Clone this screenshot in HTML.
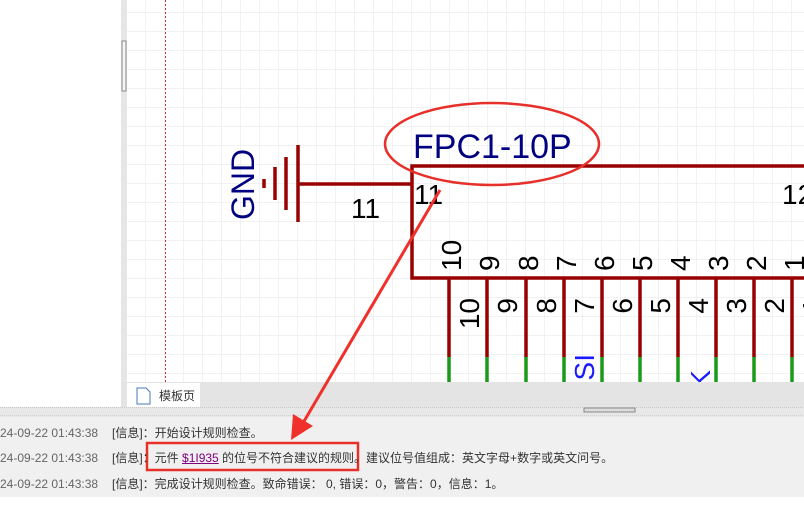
<!DOCTYPE html>
<html><head><meta charset="utf-8"><style>
body{margin:0;width:804px;height:520px;overflow:hidden;background:#fff;position:relative;font-family:"Liberation Sans","Noto Sans CJK SC",sans-serif}
.log{position:absolute;left:0;font-size:12px;color:#333;white-space:nowrap}
.log .t{color:#666;display:inline-block;width:112px}
</style></head><body>
<svg width="804" height="520" style="position:absolute;left:0;top:0" xmlns="http://www.w3.org/2000/svg">
<defs>
<pattern id="g" x="13" y="13" width="19" height="19" patternUnits="userSpaceOnUse">
<path d="M19 0V19M0 19H19" stroke="#e4e4e4" stroke-width="1" fill="none"/>
</pattern>
</defs>
<rect x="0" y="0" width="121" height="407" fill="#fff"/>
<rect x="121" y="0" width="6" height="407" fill="#e6e6e6"/>
<rect x="122" y="41" width="4" height="50" fill="#f5f5f5" stroke="#888" stroke-width="1"/>
<rect x="127" y="0" width="677" height="382" fill="#fff"/>
<rect x="127" y="0" width="677" height="382" fill="url(#g)"/>
<line x1="165.5" y1="0" x2="165.5" y2="382" stroke="#c33" stroke-width="1" stroke-dasharray="2,2"/>
<g stroke="#990000" stroke-width="3.5" fill="none">
<line x1="298" y1="145" x2="298" y2="222"/>
<line x1="286" y1="157" x2="286" y2="210"/>
<line x1="275" y1="167" x2="275" y2="200"/>
<line x1="264" y1="179" x2="264" y2="188"/>
<line x1="298" y1="184" x2="412" y2="184"/>
</g>
<text transform="translate(254,220) rotate(-90)" font-size="32" fill="#000080">GND</text>
<text x="351" y="218" font-size="28" fill="#000">11</text>
<rect x="412" y="166" width="420" height="112" fill="none" stroke="#990000" stroke-width="3.5"/>
<text x="414" y="204" font-size="28" fill="#000">11</text>
<text x="782" y="204" font-size="28" fill="#000">12</text>
<text x="413" y="158" font-size="34" fill="#000080">FPC1-10P</text>
<ellipse cx="492" cy="144" rx="107" ry="41" fill="none" stroke="#e8302a" stroke-width="2.5"/>
<g stroke-width="3.5">
<line x1="449" y1="279" x2="449" y2="357" stroke="#990000"/><line x1="449" y1="357" x2="449" y2="382" stroke="#1a9a1a"/>
<line x1="487" y1="279" x2="487" y2="357" stroke="#990000"/><line x1="487" y1="357" x2="487" y2="382" stroke="#1a9a1a"/>
<line x1="526" y1="279" x2="526" y2="357" stroke="#990000"/><line x1="526" y1="357" x2="526" y2="382" stroke="#1a9a1a"/>
<line x1="564" y1="279" x2="564" y2="357" stroke="#990000"/><line x1="564" y1="357" x2="564" y2="382" stroke="#1a9a1a"/>
<line x1="602" y1="279" x2="602" y2="357" stroke="#990000"/><line x1="602" y1="357" x2="602" y2="382" stroke="#1a9a1a"/>
<line x1="640" y1="279" x2="640" y2="357" stroke="#990000"/><line x1="640" y1="357" x2="640" y2="382" stroke="#1a9a1a"/>
<line x1="678" y1="279" x2="678" y2="357" stroke="#990000"/><line x1="678" y1="357" x2="678" y2="382" stroke="#1a9a1a"/>
<line x1="716" y1="279" x2="716" y2="357" stroke="#990000"/><line x1="716" y1="357" x2="716" y2="382" stroke="#1a9a1a"/>
<line x1="754" y1="279" x2="754" y2="357" stroke="#990000"/><line x1="754" y1="357" x2="754" y2="382" stroke="#1a9a1a"/>
<line x1="792" y1="279" x2="792" y2="357" stroke="#990000"/><line x1="792" y1="357" x2="792" y2="382" stroke="#1a9a1a"/>
</g>
<g font-size="28" fill="#000">
<text transform="translate(461,271) rotate(-90)">10</text>
<text transform="translate(499,271) rotate(-90)">9</text>
<text transform="translate(538,271) rotate(-90)">8</text>
<text transform="translate(576,271) rotate(-90)">7</text>
<text transform="translate(614,271) rotate(-90)">6</text>
<text transform="translate(652,271) rotate(-90)">5</text>
<text transform="translate(690,271) rotate(-90)">4</text>
<text transform="translate(728,271) rotate(-90)">3</text>
<text transform="translate(766,271) rotate(-90)">2</text>
<text transform="translate(804,271) rotate(-90)">1</text>
<g text-anchor="end">
<text transform="translate(479,298) rotate(-90)">10</text>
<text transform="translate(517,298) rotate(-90)">9</text>
<text transform="translate(556,298) rotate(-90)">8</text>
<text transform="translate(594,298) rotate(-90)">7</text>
<text transform="translate(632,298) rotate(-90)">6</text>
<text transform="translate(670,298) rotate(-90)">5</text>
<text transform="translate(708,298) rotate(-90)">4</text>
<text transform="translate(746,298) rotate(-90)">3</text>
<text transform="translate(784,298) rotate(-90)">2</text>
<text transform="translate(822,298) rotate(-90)">1</text>
</g>
</g>
<g font-size="28" fill="#1a1aff" text-anchor="end">
<text transform="translate(594,354) rotate(-90)">SI</text>
<text transform="translate(710,370) rotate(-90)">K</text>
</g>
<rect x="121" y="382" width="683" height="25" fill="#e4e4e4"/>
<rect x="127" y="383" width="73" height="24" fill="#fff"/>
<path d="M137 388h9l4 4v12h-13z" fill="#fff" stroke="#4a7ab8" stroke-width="1"/>
<text x="159" y="400" font-size="12" fill="#333" font-family="Liberation Sans,Noto Sans CJK SC,sans-serif">模板页</text>
<rect x="0" y="407" width="804" height="10" fill="#e8e8e8"/>
<line x1="0" y1="407.5" x2="804" y2="407.5" stroke="#c8c8c8" stroke-dasharray="1,1"/>
<line x1="0" y1="415.5" x2="804" y2="415.5" stroke="#d0d0d0" stroke-dasharray="1,1"/>
<rect x="584" y="408" width="51" height="4" fill="#ddd" stroke="#888" stroke-width="1"/>
<rect x="0" y="417" width="804" height="80" fill="#f0f0f0"/>
<rect x="147" y="443" width="211" height="27" fill="none" stroke="#e8302a" stroke-width="2.5"/>
<line x1="440" y1="190" x2="303" y2="423" stroke="#f0302a" stroke-width="3"/>
<polygon points="291,440 293,414 313,426" fill="#f0302a"/>
</svg>
<div class="log" style="top:424px"><span class="t">24-09-22 01:43:38</span>[信息]：开始设计规则检查。</div>
<div class="log" style="top:449px"><span class="t">24-09-22 01:43:38</span>[信息]：元件 <span style="color:#800080;text-decoration:underline">$1I935</span> 的位号不符合建议的规则。建议位号值组成：英文字母+数字或英文问号。</div>
<div class="log" style="top:475px"><span class="t">24-09-22 01:43:38</span>[信息]：完成设计规则检查。致命错误： 0, 错误：0，警告：0，信息：1。</div>
</body></html>
